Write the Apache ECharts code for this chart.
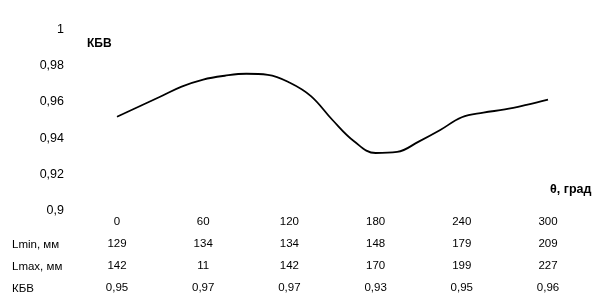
<!DOCTYPE html>
<html>
<head>
<meta charset="utf-8">
<script src="https://cdn.jsdelivr.net/npm/echarts@6/dist/echarts.min.js"></script>
<style>
html,body{margin:0;padding:0;background:#fff;}
#chart{width:606px;height:307px;}
</style>
</head>
<body>
<div id="chart"></div>
<script>
// Table data
var angles = [0, 60, 120, 180, 240, 300];
var lminValues = [129, 134, 134, 148, 179, 209];
var lmaxValues = [142, 11, 142, 170, 199, 227];
var kbvValues = [0.95, 0.97, 0.97, 0.93, 0.95, 0.96];
var rowLabels = ['Lmin, мм', 'Lmax, мм', 'КБВ'];

// Curve (θ in degrees, КБВ)
var curveAngles = [0, 15, 30, 45, 60, 75, 90, 105, 120, 135, 150, 165, 180, 195, 210, 225, 240, 255, 270, 285, 300];
var curveValues = [0.9518, 0.9573, 0.9628, 0.9684, 0.9723, 0.9744, 0.9755, 0.9749, 0.9707, 0.9632, 0.9500, 0.9383, 0.9318, 0.9324, 0.9381, 0.9445, 0.9515, 0.9541, 0.9558, 0.9583, 0.9612];

// Y ticks
var yMin = 0.9, yMax = 1, yStep = 0.02;

function comma(v) {
  var s = String(+v.toFixed(4));
  return s.replace('.', ',');
}

var FONT = '"Liberation Sans", Arial, sans-serif';
var chart = echarts.init(document.getElementById('chart'), null, {renderer: 'canvas'});

var curveData = curveAngles.map(function (a, i) { return [a, curveValues[i]]; });

function tableAxis(data, offset) {
  return {
    type: 'category',
    position: 'bottom',
    boundaryGap: false,
    data: data,
    offset: offset,
    axisLine: {show: false},
    axisTick: {show: false},
    splitLine: {show: false},
    axisLabel: {
      interval: 0, margin: 0, color: '#000', fontSize: 11.5, fontFamily: FONT,
      formatter: function (v) { return String(v).replace('.', ','); }
    }
  };
}

var option = {
  animation: false,
  backgroundColor: '#fff',
  grid: {left: 117, right: 58, top: 29.3, bottom: 96.3, containLabel: false},
  xAxis: [
    {
      type: 'value', min: 0, max: 300, interval: 60,
      axisLine: {show: false}, axisTick: {show: false}, splitLine: {show: false},
      axisLabel: {margin: 5, color: '#000', fontSize: 11.5, fontFamily: FONT}
    },
    tableAxis(lminValues.map(String), 27.5),
    tableAxis(lmaxValues.map(String), 49.5),
    tableAxis(kbvValues.map(function (v) { return v.toFixed(2); }), 71.5)
  ],
  yAxis: {
    type: 'value', min: yMin, max: yMax, interval: yStep,
    axisLine: {show: false}, axisTick: {show: false}, splitLine: {show: false},
    axisLabel: {
      margin: 53, color: '#000', fontSize: 12.5, fontFamily: FONT,
      formatter: function (v) { return comma(v); }
    }
  },
  graphic: [
    {type: 'text', left: 87, top: 37.5, style: {text: 'КБВ', fill: '#000', font: 'bold 12px ' + FONT}},
    {type: 'text', left: 550, top: 183.5, style: {text: 'θ, град', fill: '#000', font: 'bold 12.5px ' + FONT}},
    {type: 'text', left: 12, top: 238.5, style: {text: rowLabels[0], fill: '#000', font: '11.5px ' + FONT}},
    {type: 'text', left: 12, top: 260.5, style: {text: rowLabels[1], fill: '#000', font: '11.5px ' + FONT}},
    {type: 'text', left: 12, top: 282.5, style: {text: rowLabels[2], fill: '#000', font: '11.5px ' + FONT}}
  ],
  series: [{
    type: 'line',
    xAxisIndex: 0,
    data: curveData,
    smooth: 0.4,
    showSymbol: false,
    lineStyle: {color: '#000', width: 1.8}
  }]
};
chart.setOption(option);
</script>
</body>
</html>
